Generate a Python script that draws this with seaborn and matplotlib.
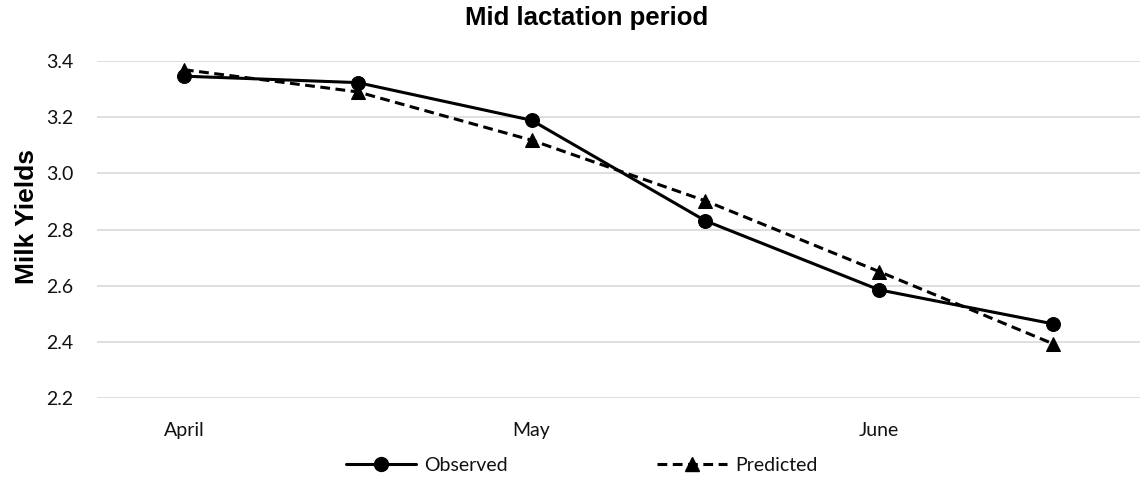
import matplotlib
matplotlib.use("Agg")
import matplotlib.pyplot as plt
import seaborn as sns
import pandas as pd
from matplotlib.lines import Line2D

periods = ["April", "", "May", "", "June", ""]
observed = [3.346, 3.323, 3.189, 2.831, 2.585, 2.464]
predicted = [3.369, 3.290, 3.118, 2.902, 2.650, 2.393]
y_ticks = [2.2, 2.4, 2.6, 2.8, 3.0, 3.2, 3.4]

sns.set_theme(style="white")
plt.rcParams["font.family"] = ["Lato", "DejaVu Sans"]

pos = list(range(len(periods)))
df = pd.DataFrame({
    "pos": pos * 2,
    "value": observed + predicted,
    "series": ["Observed"] * len(pos) + ["Predicted"] * len(pos),
})

fig = plt.figure(figsize=(11.46, 4.9), dpi=100)
ax = fig.add_axes([97 / 1146, 1 - 398 / 490, (1140 - 97) / 1146, (398 - 61) / 490])

sns.lineplot(
    data=df, x="pos", y="value", style="series",
    markers={"Observed": "o", "Predicted": "^"},
    dashes={"Observed": "", "Predicted": (3.2, 1.8)},
    color="black", linewidth=2.2, markersize=10,
    markeredgecolor="black", ax=ax, legend=False,
)
for ln in ax.lines:
    ln.set_markerfacecolor("black")
    ln.set_clip_on(False)
ax.lines[1].set_markersize(9.5)

ax.set_xlim(-0.5, len(periods) - 0.5)
ax.set_ylim(2.2, 3.4)
ax.set_yticks(y_ticks)
ax.set_yticklabels([f"{v:.1f}" for v in y_ticks])
ax.set_xticks(pos)
ax.set_xticklabels(periods)
ax.yaxis.grid(True, color="#d9d9d9", linewidth=1.2)
ax.set_axisbelow(True)
for s in ax.spines.values():
    s.set_visible(False)
ax.tick_params(axis="y", length=0, pad=17, labelsize=14, labelcolor="#111111")
ax.tick_params(axis="x", length=0, pad=17, labelsize=14, labelcolor="#111111")
ax.set_xlabel("")
ax.set_ylabel("")

fig.text(27 / 1146, 1 - 216 / 490, "Milk Yields", rotation=90, ha="center", va="center",
         fontsize=19, fontweight="bold", color="black",
         family=["Liberation Sans", "DejaVu Sans"])
fig.text(0.512, 1 - 18 / 490, "Mid lactation period", ha="center", va="center",
         fontsize=18.5, fontweight="bold", color="black",
         family=["Liberation Sans", "DejaVu Sans"])

handles = [
    Line2D([], [], color="black", linewidth=2.2, marker="o", markersize=10),
    Line2D([], [], color="black", linewidth=2.2, linestyle=(0, (3.2, 1.8)), marker="^", markersize=9.5),
]
leg = fig.legend(handles, ["Observed", "Predicted"], loc="center",
                 bbox_to_anchor=(581.5 / 1146, 1 - 465 / 490),
                 ncol=2, frameon=False, fontsize=14, handlelength=3.6, handletextpad=0.4,
                 columnspacing=7.7)
for t in leg.get_texts():
    t.set_color("#111111")

fig.savefig("out.png", dpi=100)
